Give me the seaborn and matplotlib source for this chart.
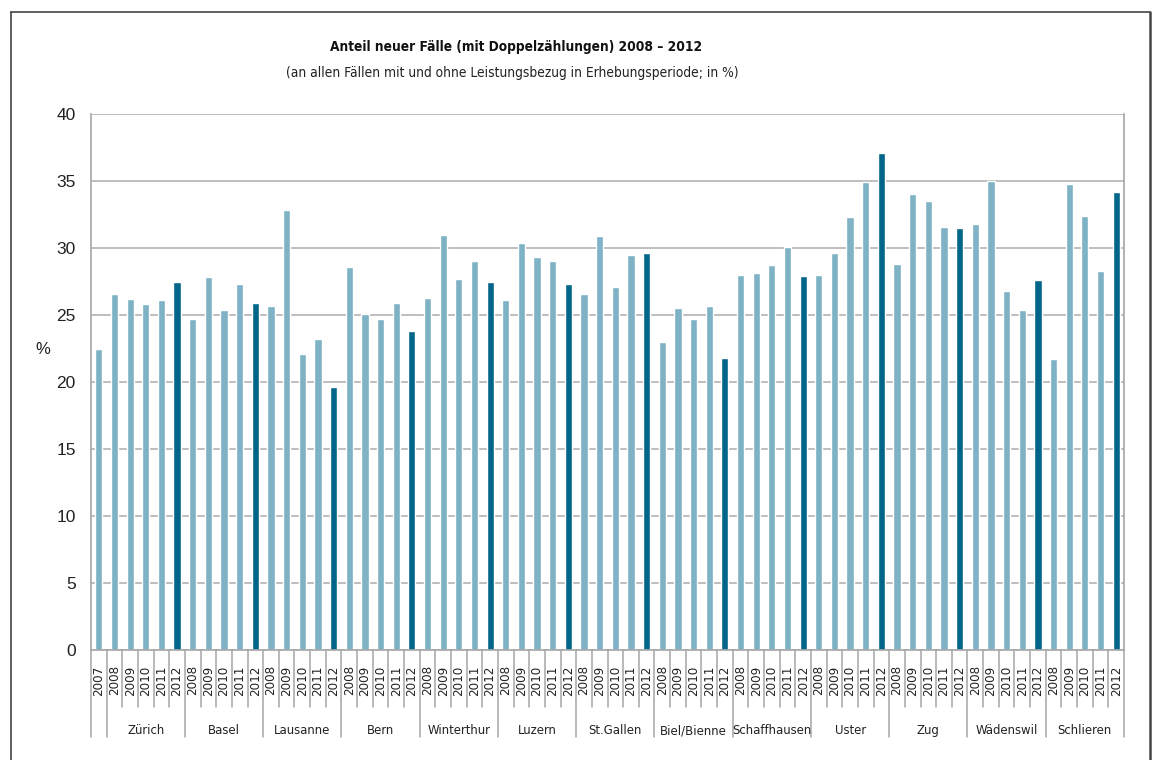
import matplotlib
matplotlib.use("Agg")
import matplotlib.pyplot as plt
import matplotlib.transforms as mtransforms
from matplotlib import font_manager
import pandas as pd
import seaborn as sns

YEARS = ["2008", "2009", "2010", "2011", "2012"]
CITIES = ["Zürich", "Basel", "Lausanne", "Bern", "Winterthur", "Luzern", "St.Gallen",
          "Biel/Bienne", "Schaffhausen", "Uster", "Zug", "Wädenswil", "Schlieren"]

# 2007 only exists for Zürich (own slot, no group label)
zurich_2007 = 22.5

zurich = [26.6, 26.2, 25.8, 26.1, 27.5]
basel = [24.7, 27.8, 25.4, 27.3, 25.9]
lausanne = [25.7, 32.8, 22.1, 23.2, 19.6]
bern = [28.6, 25.1, 24.7, 25.9, 23.8]
winterthur = [26.3, 31.0, 27.7, 29.0, 27.5]
luzern = [26.1, 30.4, 29.3, 29.0, 27.3]
stgallen = [26.6, 30.9, 27.1, 29.5, 29.6]
biel = [23.0, 25.5, 24.7, 25.7, 21.8]
schaffhausen = [28.0, 28.1, 28.7, 30.1, 27.9]
uster = [28.0, 29.6, 32.3, 34.9, 37.1]
zug = [28.8, 34.0, 33.5, 31.6, 31.5]
waedenswil = [31.8, 35.0, 26.8, 25.4, 27.6]
schlieren = [21.7, 34.8, 32.4, 28.3, 34.2]

CITY_VALUES = [zurich, basel, lausanne, bern, winterthur, luzern, stgallen,
               biel, schaffhausen, uster, zug, waedenswil, schlieren]

LIGHT = "#7FB2C4"
DARK = "#02668A"
GRID = "#BEBEBE"
AXIS = "#A6A6A6"

fonts = font_manager.fontManager.ttflist
names = {f.name for f in fonts}
HAS_COND = any(f.name == "DejaVu Sans" and str(f.stretch) in ("condensed", "semi-condensed")
               for f in fonts)
REGULAR = "Liberation Sans" if "Liberation Sans" in names else "DejaVu Sans"
if HAS_COND:
    NARROW = dict(fontfamily="DejaVu Sans", fontstretch="condensed")
    SCALE = 1.0
else:
    NARROW = dict(fontfamily=REGULAR)
    SCALE = 0.92


def build_frame():
    rows = [{"slot": "2007", "year": "2007", "city": "", "value": zurich_2007, "kind": "other"}]
    for city, vals in zip(CITIES, CITY_VALUES):
        for year, v in zip(YEARS, vals):
            rows.append({"slot": f"{city} {year}", "year": year, "city": city, "value": v,
                         "kind": "current" if year == "2012" else "other"})
    return pd.DataFrame(rows)


def plot_data(df):
    sns.set_style("white")
    plt.rcParams["font.family"] = [REGULAR, "DejaVu Sans"]

    fig = plt.figure(figsize=(11.59, 7.60), dpi=100)
    ax = fig.add_axes([91 / 1159, 1 - 650 / 760, (1124 - 91) / 1159, (650 - 114) / 760])

    sns.barplot(data=df, x="slot", y="value", hue="kind", palette={"other": LIGHT, "current": DARK},
                dodge=False, width=0.46, legend=False, ax=ax, errorbar=None, saturation=1)

    n = len(df)
    ax.set_xlim(-0.5, n - 0.5)
    ax.set_ylim(0, 40)
    ax.set_yticks(range(0, 41, 5))
    ax.yaxis.grid(True, color=GRID, linewidth=1.4)
    ax.set_axisbelow(True)
    for side in ["left", "right", "bottom"]:
        ax.spines[side].set_color(AXIS)
        ax.spines[side].set_linewidth(1.2)
    ax.spines["top"].set_visible(False)

    ax.tick_params(axis="y", length=5, width=1.2, color=AXIS, pad=6, labelsize=12.5)
    for lab in ax.get_yticklabels():
        lab.set_color("#222222")

    ax.set_xticks(range(n))
    ax.set_xticklabels(df["year"], rotation=90, fontsize=9.5 * SCALE, color="#222222", **NARROW)
    ax.tick_params(axis="x", length=0, pad=11)

    ax.set_xlabel("")
    ax.set_ylabel("%", rotation=0, fontsize=12, color="#222222")
    ax.yaxis.set_label_coords(-0.047, 0.547)

    # multi-level category axis lines below the plot
    trans = mtransforms.blended_transform_factory(ax.transData, ax.transAxes)
    short_end = -(707 - 650) / 536
    long_end = -(737 - 650) / 536
    boundaries = [-0.5, 0.5] + [0.5 + 5 * (k + 1) for k in range(len(CITIES))]
    for i in range(n + 1):
        xpos = i - 0.5
        end = long_end if xpos in boundaries else short_end
        ax.plot([xpos, xpos], [0, end], color=AXIS, linewidth=1.1, transform=trans, clip_on=False)

    label_y = -(734 - 650) / 536
    for k, city in enumerate(CITIES):
        center = 1 + 5 * k + 2
        ax.text(center, label_y, city, transform=trans, ha="center", va="baseline",
                fontsize=9.4 * SCALE, color="#222222", **NARROW)

    fig.text(516 / 1159, 1 - 47 / 760, "Anteil neuer Fälle (mit Doppelzählungen) 2008 – 2012",
             ha="center", va="center", fontsize=9.8 * SCALE, fontweight="bold", color="#111111",
             **NARROW)
    fig.text(512 / 1159, 1 - 73 / 760,
             "(an allen Fällen mit und ohne Leistungsbezug in Erhebungsperiode; in %)",
             ha="center", va="center", fontsize=9.9 * SCALE, color="#222222", **NARROW)

    # outer frame
    fig.add_artist(plt.Line2D([11 / 1159, 11 / 1159], [0, 1 - 12 / 760], color="#444444",
                              linewidth=1.2, transform=fig.transFigure))
    fig.add_artist(plt.Line2D([11 / 1159, 1150 / 1159], [1 - 12 / 760, 1 - 12 / 760], color="#444444",
                              linewidth=1.2, transform=fig.transFigure))
    fig.add_artist(plt.Line2D([1150 / 1159, 1150 / 1159], [0, 1 - 12 / 760], color="#444444",
                              linewidth=1.8, transform=fig.transFigure))

    fig.savefig("out.png", dpi=100)


def main():
    df = build_frame()
    plot_data(df)


if __name__ == "__main__":
    main()
